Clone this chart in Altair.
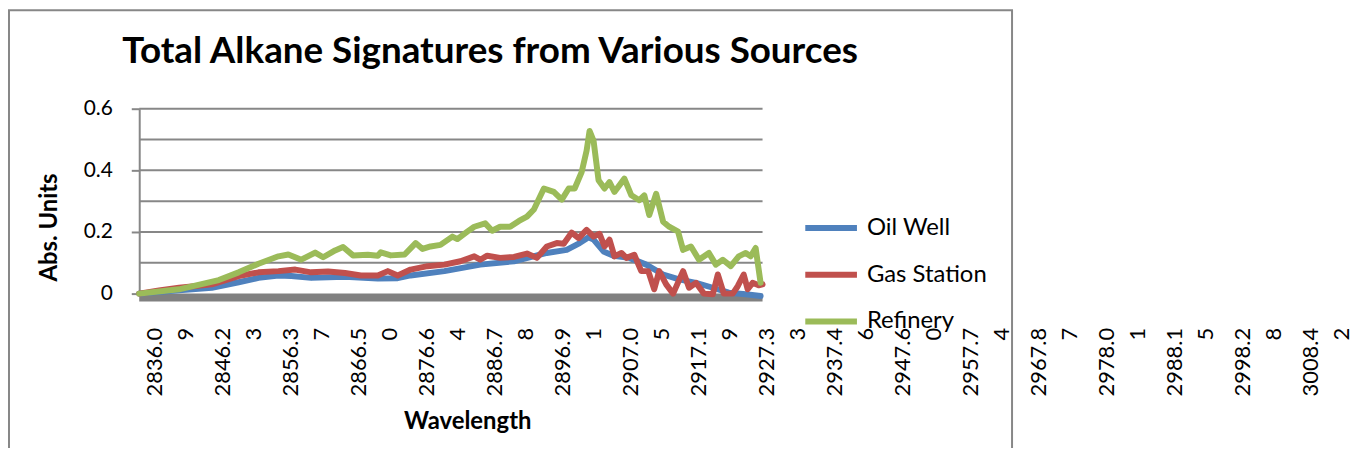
import altair as alt
import pandas as pd

# ---------------- data ----------------
tick_labels = [2836.09, 2846.23, 2856.37, 2866.50, 2876.64, 2886.78, 2896.91,
               2907.05, 2917.19, 2927.33, 2937.46, 2947.60, 2957.74, 2967.87,
               2978.01, 2988.15, 2998.28, 3008.42]
y_ticks = [0, 0.1, 0.2, 0.3, 0.4, 0.5, 0.6]
series_names = ["Oil Well", "Gas Station", "Refinery"]
series_colors = ["#4F81BD", "#C0504D", "#9BBB59"]

oil_wl = [2836.09, 2842.02, 2846.91, 2850.91, 2853.88, 2856.84, 2858.77, 2861.73,
          2866.77, 2871.66, 2874.63, 2876.55, 2881.59, 2886.93, 2891.97, 2896.86,
          2899.82, 2901.75, 2903.09, 2903.83, 2905.31, 2906.79, 2909.16, 2911.68,
          2914.20, 2916.57, 2919.09, 2921.61, 2923.98, 2926.51, 2928.73]
oil_abs = [0.000, 0.011, 0.019, 0.037, 0.051, 0.059, 0.057, 0.051,
           0.055, 0.049, 0.050, 0.059, 0.073, 0.094, 0.105, 0.132,
           0.142, 0.164, 0.183, 0.175, 0.137, 0.123, 0.116, 0.094,
           0.062, 0.046, 0.035, 0.019, 0.003, -0.002, -0.008]

gas_wl = [2836.09, 2839.05, 2842.02, 2846.91, 2850.91, 2853.88, 2856.84, 2859.36,
          2861.73, 2864.25, 2866.77, 2869.14, 2871.66, 2873.15, 2874.63, 2876.55,
          2879.07, 2881.59, 2883.97, 2886.04, 2886.93, 2887.97, 2889.89, 2891.97,
          2893.90, 2895.38, 2896.86, 2898.34, 2899.38, 2900.57, 2901.60, 2902.79,
          2903.83, 2904.72, 2905.46, 2906.20, 2906.94, 2907.98, 2908.72, 2909.90,
          2910.94, 2911.98, 2912.87, 2913.61, 2914.65, 2915.69, 2917.17, 2918.06,
          2919.09, 2920.28, 2921.61, 2922.35, 2923.24, 2924.58, 2925.32, 2926.21,
          2926.80, 2927.54, 2928.43, 2929.02]
gas_abs = [0.000, 0.010, 0.019, 0.030, 0.057, 0.069, 0.073, 0.078,
           0.069, 0.072, 0.067, 0.059, 0.059, 0.073, 0.059, 0.078,
           0.089, 0.094, 0.105, 0.121, 0.110, 0.123, 0.116, 0.119,
           0.130, 0.116, 0.153, 0.164, 0.162, 0.198, 0.180, 0.207,
           0.185, 0.194, 0.153, 0.175, 0.121, 0.132, 0.116, 0.126,
           0.073, 0.073, 0.014, 0.073, 0.030, 0.000, 0.073, 0.019,
           0.035, 0.000, -0.002, 0.062, 0.000, 0.000, 0.024, 0.062,
           0.014, 0.035, 0.027, 0.030]

ref_wl = [2836.09, 2842.02, 2847.95, 2850.91, 2853.88, 2856.84, 2858.32, 2860.25,
          2862.32, 2863.51, 2865.29, 2866.48, 2867.96, 2870.18, 2871.66, 2872.11,
          2873.59, 2875.66, 2877.30, 2878.33, 2879.52, 2881.00, 2882.78, 2883.52,
          2885.00, 2886.04, 2887.67, 2888.71, 2889.89, 2891.38, 2892.71, 2893.90,
          2894.93, 2896.42, 2897.90, 2899.09, 2900.12, 2901.01, 2902.05, 2902.79,
          2903.23, 2903.83, 2904.57, 2905.46, 2906.20, 2906.94, 2908.42, 2909.46,
          2910.65, 2911.39, 2912.13, 2913.16, 2914.20, 2915.09, 2916.43, 2917.17,
          2918.35, 2919.54, 2921.02, 2922.06, 2923.10, 2924.28, 2925.47, 2926.51,
          2927.25, 2927.99, 2928.73]
ref_abs = [0.000, 0.014, 0.044, 0.069, 0.097, 0.121, 0.127, 0.110,
           0.133, 0.118, 0.140, 0.151, 0.124, 0.126, 0.123, 0.134,
           0.124, 0.127, 0.164, 0.145, 0.153, 0.158, 0.185, 0.177,
           0.201, 0.217, 0.228, 0.204, 0.217, 0.217, 0.236, 0.250,
           0.273, 0.341, 0.330, 0.305, 0.341, 0.341, 0.394, 0.464,
           0.528, 0.496, 0.368, 0.341, 0.362, 0.330, 0.373, 0.319,
           0.303, 0.319, 0.255, 0.324, 0.233, 0.217, 0.201, 0.142,
           0.153, 0.110, 0.132, 0.094, 0.110, 0.089, 0.121, 0.132,
           0.121, 0.148, 0.035]

# ---------------- tables ----------------
rows = []
for name, wls, vals in zip(series_names, [oil_wl, gas_wl, ref_wl], [oil_abs, gas_abs, ref_abs]):
    for w, v in zip(wls, vals):
        rows.append({"wl": w, "abs": v, "series": name})
lines_df = pd.DataFrame(rows)
grid_df = pd.DataFrame({"g": y_ticks[1:]})
base_df = pd.DataFrame({"g": [0]})
frame_df = pd.DataFrame({"k": [0]})

first_wl = min(oil_wl + gas_wl + ref_wl)
last_wl = max(oil_wl + gas_wl + ref_wl)

GRAY = "#878787"
FONT = "Lato"
xscale = alt.Scale(domain=[2836.09, 3013.94], nice=False, zero=False)
yscale = alt.Scale(domain=[0, 0.6], nice=False, zero=False)

grid = alt.Chart(grid_df).mark_rule(color=GRAY, strokeWidth=2).encode(
    y=alt.Y("g:Q", scale=yscale),
    x=alt.X(datum=first_wl, type="quantitative", scale=xscale),
    x2=alt.X2(datum=last_wl),
)

base = alt.Chart(base_df).mark_rule(color="#808080", strokeWidth=8, yOffset=4, strokeCap="butt").encode(
    y=alt.Y("g:Q", scale=yscale),
    x=alt.X(datum=first_wl, type="quantitative", scale=xscale),
    x2=alt.X2(datum=last_wl),
)

lines = alt.Chart(lines_df).mark_line(strokeWidth=6, strokeJoin="round", strokeCap="round").encode(
    x=alt.X("wl:Q", scale=xscale, axis=alt.Axis(
        values=tick_labels,
        labelExpr="[substring(format(datum.value, '.2f'), 0, 6), substring(format(datum.value, '.2f'), 6)]",
        labelAngle=270, labelAlign="right", labelBaseline="middle",
        labelLineHeight=31.5, labelOffset=15.5, labelPadding=34,
        labelFontSize=22, labelFont=FONT, labelColor="black",
        labelOverlap=False, labelFlush=False,
        domain=False, ticks=False, grid=False,
        title="Wavelength", titleFont=FONT, titleFontSize=24, titleFontWeight="bold",
        titleColor="black", titleX=330, titleY=129, titleAlign="center", titleBaseline="middle",
    )),
    y=alt.Y("abs:Q", scale=yscale, axis=alt.Axis(
        values=y_ticks, format=".1~f",
        labelFontSize=21, labelFont=FONT, labelColor="black", labelPadding=19,
        labelOverlap=False,
        tickSize=8, tickWidth=2, tickColor=GRAY,
        domainColor=GRAY, domainWidth=2, grid=False,
        title="Abs. Units", titleFont=FONT, titleFontSize=24, titleFontWeight="bold",
        titleColor="black", titleX=-90, titleY=119, titleAngle=270,
        titleAlign="center", titleBaseline="middle",
    )),
    color=alt.Color("series:N", sort=series_names,
                    scale=alt.Scale(domain=series_names, range=series_colors),
                    legend=alt.Legend(
                        orient="none", legendX=670, legendY=94, direction="vertical",
                        title=None, padding=0,
                        symbolType="M-1.13,0H1.13", symbolSize=2116, symbolStrokeWidth=6,
                        labelFont=FONT, labelFontSize=24, labelColor="black",
                        labelOffset=10, rowPadding=9,
                    )),
    order=alt.Order("wl:Q"),
)

frame = alt.Chart(frame_df).mark_rect(fill="transparent", stroke=GRAY, strokeWidth=2).encode(
    x=alt.value(-131), x2=alt.value(878), y=alt.value(-99), y2=alt.value(350),
)

chart = alt.layer(frame, grid, base, lines).properties(
    width=1200, height=186,
    title=alt.TitleParams(
        text="Total Alkane Signatures from Various Sources",
        font=FONT, fontSize=37, fontWeight="bold", color="black",
        anchor="middle", frame="group", dx=-247, dy=91, offset=0, baseline="alphabetic",
    ),
    autosize=alt.AutoSizeParams(type="none"),
    padding={"left": 132, "top": 100, "right": 24, "bottom": 154},
).configure(background="white").configure_view(stroke="transparent")

chart.save("out.html", embed_options={"renderer": "svg", "actions": False})
